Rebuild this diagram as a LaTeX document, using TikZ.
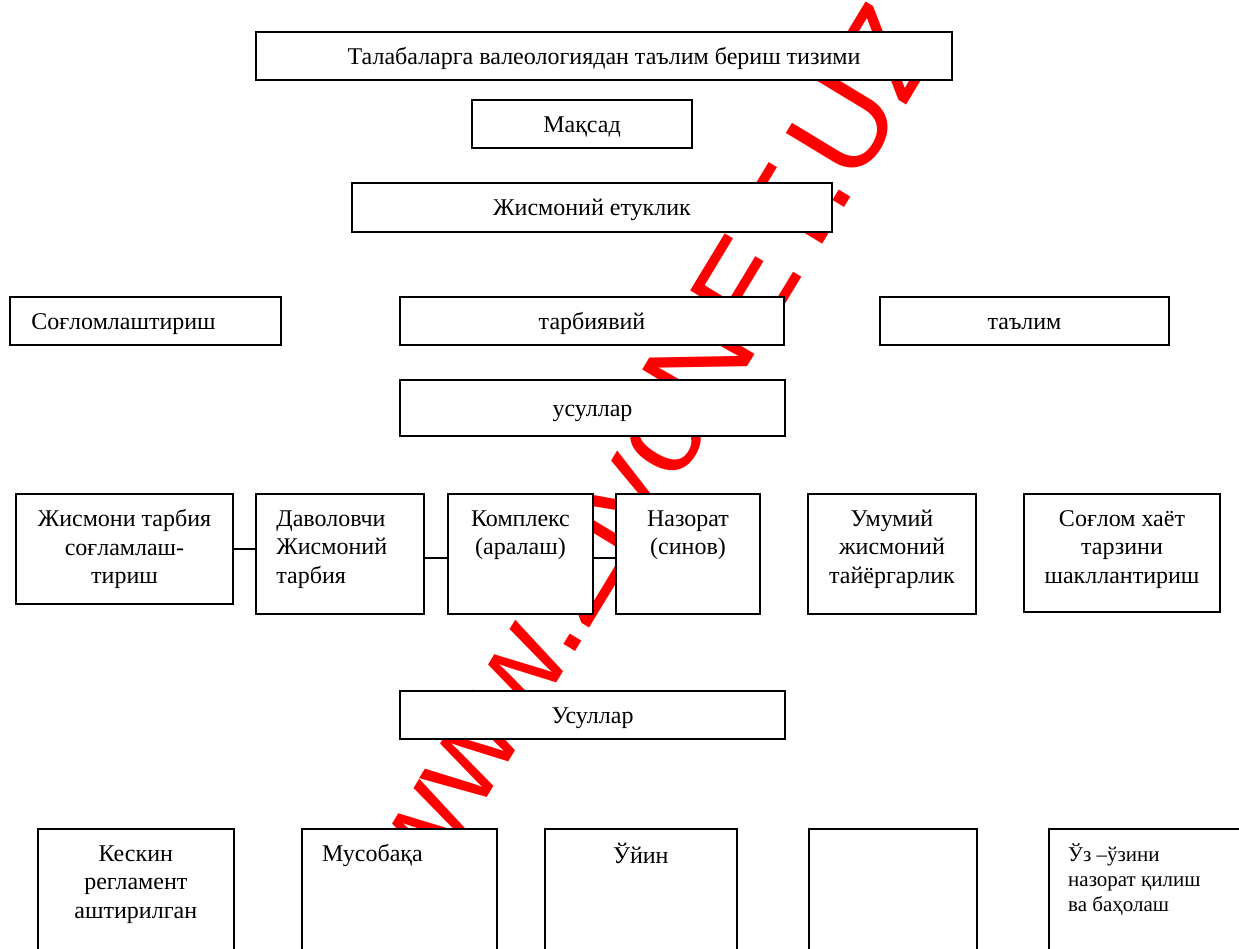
\documentclass[tikz,border=0pt]{standalone}
\usepackage{fontspec}
\setmainfont{Liberation Serif}
\newfontfamily\wmfont{Liberation Sans}
\begin{document}
\begin{tikzpicture}[x=1pt,y=-1pt,
  box/.style={draw=black, line width=1.6pt, fill=white, inner sep=0pt},
  txt/.style={font=\fontsize{24}{28.5}\selectfont, inner sep=0pt, align=center},
  one/.style={txt, text height=19pt, text depth=3pt},
  ltxt/.style={font=\fontsize{24}{28.5}\selectfont, inner sep=0pt, align=left},
  stxt/.style={font=\fontsize{21}{25}\selectfont, inner sep=0pt, align=left},
  link/.style={draw=black, line width=1.3pt},
  wm/.style={font=\wmfont\fontsize{128}{128}\selectfont, text=red, rotate=58.8, anchor=base west, inner sep=0pt}]
\useasboundingbox (0,0) rectangle (1239,948);
\clip (0,0) rectangle (1239,948);
% watermark
\node[wm] (wmark) at (429.2,893.2) {www.ZiyoNET.UZ};
% top boxes
\node[box, one, minimum width=696, minimum height=48] (title) at (604,56) {Талабаларга валеологиядан таълим бериш тизими};
\node[box, one, minimum width=220, minimum height=48] (maqsad) at (582,124) {Мақсад};
\node[box, one, minimum width=480, minimum height=49] (etuk) at (592,207.5) {Жисмоний етуклик};
\node[box, minimum width=271, minimum height=48] (sog) at (145.5,321) {};
\node[ltxt, text height=19pt, text depth=3pt, anchor=west] (sogt) at ([xshift=22pt]sog.west) {Соғломлаштириш};
\node[box, one, minimum width=384, minimum height=48] (tarb) at (592,321) {тарбиявий};
\node[box, one, minimum width=289, minimum height=48] (talim) at (1024.5,321) {таълим};
\node[box, one, minimum width=385, minimum height=56] (usul) at (592.5,408) {усуллар};
% middle row
\node[box, minimum width=217, minimum height=110] (jis) at (124.5,549) {};
\node[box, minimum width=168, minimum height=120] (dav) at (340,554) {};
\node[box, minimum width=145, minimum height=120] (kom) at (520.5,554) {};
\node[box, minimum width=144, minimum height=120] (naz) at (688,554) {};
\node[box, minimum width=168, minimum height=120] (umu) at (892,554) {};
\node[box, minimum width=196, minimum height=118] (hayot) at (1122,553) {};
\node[txt] (jist) at (jis.center) {Жисмони тарбия\\соғламлаш-\\тириш};
\node[ltxt, anchor=north west] (davt) at ([xshift=21pt,yshift=-15pt]dav.north west) {\rule{0pt}{18pt}Даволовчи\\Жисмоний\\тарбия};
\node[txt, anchor=north] (komt) at ([yshift=-15pt]kom.north) {\rule{0pt}{18pt}Комплекс\\(аралаш)};
\node[txt, anchor=north] (nazt) at ([yshift=-15pt]naz.north) {\rule{0pt}{18pt}Назорат\\(синов)};
\node[txt, anchor=north] (umut) at ([yshift=-15pt]umu.north) {\rule{0pt}{18pt}Умумий\\жисмоний\\тайёргарлик};
\node[txt, anchor=north] (hayott) at ([yshift=-15pt]hayot.north) {\rule{0pt}{18pt}Соғлом хаёт\\тарзини\\шакллантириш};
\draw[link] (jis.east) -- (jis.east -| dav.west);
\draw[link] ([yshift=-4pt]dav.east) -- ([yshift=-4pt]kom.west);
\draw[link] ([yshift=-4pt]kom.east) -- ([yshift=-4pt]naz.west);
% lower
\node[box, one, minimum width=385, minimum height=48] (usul2) at (592.5,715) {Усуллар};
\node[box, minimum width=196, minimum height=140, anchor=north west] (kes) at (37,828) {};
\node[box, minimum width=195, minimum height=140, anchor=north west] (mus) at (301,828) {};
\node[box, minimum width=192, minimum height=140, anchor=north west] (uyin) at (544,828) {};
\node[box, minimum width=168, minimum height=140, anchor=north west] (empty) at (808,828) {};
\node[box, minimum width=220, minimum height=140, anchor=north west] (uz) at (1048,828) {};
\node[txt, anchor=north] (kest) at ([yshift=-15pt]kes.north) {\rule{0pt}{18pt}Кескин\\регламент\\аштирилган};
\node[ltxt, anchor=north west] (must) at ([xshift=21pt,yshift=-15pt]mus.north west) {\rule{0pt}{18pt}Мусобақа};
\node[txt, anchor=north] (uyint) at ([yshift=-15pt]uyin.north) {\rule{0pt}{18pt}Ўйин};
\node[stxt, anchor=north west] (uzt) at ([xshift=20pt,yshift=-15pt]uz.north west) {\rule{0pt}{16pt}Ўз –ўзини\\назорат қилиш\\ва баҳолаш};
\end{tikzpicture}
\end{document}
